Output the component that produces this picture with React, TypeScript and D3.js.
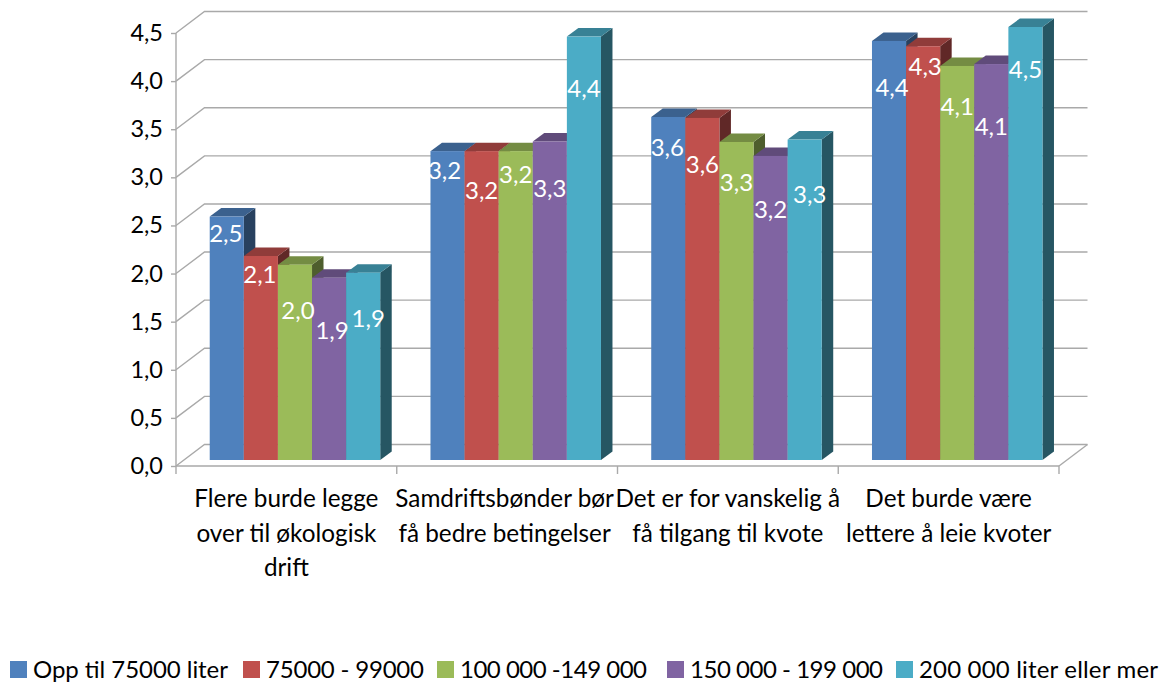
import React, { useEffect, useRef } from 'react'
import * as d3 from 'd3'

const categories = [
  ['Flere burde legge', 'over til økologisk', 'drift'],
  ['Samdriftsbønder bør', 'få bedre betingelser'],
  ['Det er for vanskelig å', 'få tilgang til kvote'],
  ['Det burde være', 'lettere å leie kvoter'],
]
const seriesNames = ['Opp til 75000 liter', '75000 - 99000', '100 000 -149 000', '150 000 - 199 000', '200 000 liter eller mer']
const seriesColors = ['#4f81bd', '#c0504d', '#9bbb59', '#8064a2', '#4bacc6']

const opp75 = [2.53, 3.21, 3.565, 4.355]
const s75to99 = [2.12, 3.21, 3.555, 4.3]
const s100to149 = [2.03, 3.21, 3.305, 4.095]
const s150to199 = [1.895, 3.31, 3.16, 4.115]
const s200plus = [1.947, 4.4, 3.33, 4.5]
const seriesValues = [opp75, s75to99, s100to149, s150to199, s200plus]

const yTicks = [0, 0.5, 1, 1.5, 2, 2.5, 3, 3.5, 4, 4.5]

// the labels were dragged around by hand in the original, px below the bar top
const labelDrop = [
  [17, 19, 46, 53, 46],
  [19, 39, 23, 47, 52],
  [31, 47, 41, 54, 55],
  [47, 20, 41, 63, 43],
]
// and px sideways from the bar centre
const labelNudge = [
  [-1, -1, 3, 3, 5],
  [-3, 0, 0, 0, 0],
  [-1, 0, 0, 0, 5],
  [3, 2, 0, 0, 0],
]

const W = 1165
const H = 682
const FONT = 'Lato, "Noto Sans", sans-serif'
const GRID = '#a9a9a9'
const wallX = 28.5
const wallY = 21.5
const barLift = 6
const barShift = 8.6
const sideX = 11.5
const sideY = 8.5

const legendX = [10, 243, 437, 667, 896]
// Lato digits run wider than the original font, so legend texts are fitted
const legendTextW = [195, 158, 187, 193, 239]
const categoryNudge = [0, -2.5, 0, 0]

const fmt = (v: number) => d3.format('.1f')(v).replace('.', ',')
const shade = (c: string, k: number) => {
  const r = d3.rgb(c)
  return d3.rgb(r.r * k, r.g * k, r.b * k).formatHex()
}

export default function App() {
  const ref = useRef<SVGSVGElement>(null)

  useEffect(() => {
    const svg = d3.select(ref.current)
    svg.selectAll('*').remove()

    const y = d3.scaleLinear().domain([0, 4.5]).range([466, 33])
    const x0 = d3.scaleBand().domain(categories.map((_, i) => String(i))).range([176, 1059])
    const step = x0.bandwidth()
    const groupW = 170.5
    const x1 = d3.scaleBand()
      .domain(seriesNames)
      .range([(step - groupW) / 2, (step + groupW) / 2])

    // back wall, left wall, floor edge
    const grid = svg.append('g')
    yTicks.forEach((t) => {
      grid.append('path')
        .attr('d', `M176,${y(t)}L${176 + wallX},${y(t) - wallY}H${1059 + wallX}`)
        .attr('fill', 'none')
        .attr('stroke', GRID)
        .attr('stroke-width', 1.4)
    })
    grid.append('line')
      .attr('x1', 1059).attr('y1', y(0))
      .attr('x2', 1059 + wallX).attr('y2', y(0) - wallY)
      .attr('stroke', GRID).attr('stroke-width', 1.4)

    const yAxis = d3.axisLeft(y).tickValues(yTicks).tickFormat((d) => fmt(+d)).tickSize(5).tickPadding(8)
    const gy = svg.append('g').attr('transform', 'translate(176,0)').call(yAxis as any)
    gy.select('.domain').attr('d', `M0,${y(4.5)}V${y(0) + 8}`).attr('stroke', GRID).attr('stroke-width', 1.4)
    gy.selectAll('.tick line').attr('stroke', GRID).attr('stroke-width', 1.4)
    gy.selectAll('text').attr('font-family', FONT).attr('font-size', 23.5).attr('fill', '#000')

    const xBase = svg.append('g').attr('transform', `translate(0,${y(0)})`)
    xBase.append('line').attr('x1', 176).attr('x2', 1059).attr('stroke', GRID).attr('stroke-width', 1.4)
    categories.forEach((_, i) => {
      const xt = x0(String(i))! + step
      xBase.append('line').attr('x1', xt).attr('x2', xt).attr('y2', 8).attr('stroke', GRID).attr('stroke-width', 1.4)
    })

    // bars, left to right so that each one covers the side of the previous
    const bars = svg.append('g')
    const labels: { x: number; y: number; t: string }[] = []
    categories.forEach((_, c) => {
      seriesNames.forEach((name, s) => {
        const v = seriesValues[s][c]
        const left = x0(String(c))! + x1(name)! + barShift
        const w = x1.bandwidth()
        const right = left + w
        const top = y(v) - barLift
        const bottom = y(0) - barLift
        const color = seriesColors[s]

        bars.append('path')
          .attr('d', `M${right},${top}l${sideX},${-sideY}V${bottom - sideY}l${-sideX},${sideY}Z`)
          .attr('fill', shade(color, 0.5))
        bars.append('path')
          .attr('d', `M${left},${top}l${sideX},${-sideY}H${right + sideX}l${-sideX},${sideY}Z`)
          .attr('fill', shade(color, 0.75))
        bars.append('rect')
          .attr('x', left).attr('y', top)
          .attr('width', w).attr('height', bottom - top)
          .attr('fill', color)

        labels.push({ x: left + w / 2 + labelNudge[c][s], y: top + labelDrop[c][s], t: fmt(v) })
      })
    })

    svg.append('g').selectAll('text').data(labels).join('text')
      .attr('x', (d) => d.x)
      .attr('y', (d) => d.y)
      .attr('dy', '0.35em')
      .attr('text-anchor', 'middle')
      .attr('font-family', FONT)
      .attr('font-size', 24)
      .attr('fill', '#fff')
      .text((d) => d.t)

    // category labels
    categories.forEach((lines, i) => {
      const t = svg.append('text')
        .attr('text-anchor', 'middle')
        .attr('font-family', FONT)
        .attr('font-size', 24.3)
        .attr('fill', '#000')
      lines.forEach((line, j) => {
        t.append('tspan')
          .attr('x', x0(String(i))! + step / 2 + categoryNudge[i])
          .attr('y', 507 + j * 34.7)
          .text(line)
      })
    })

    // legend
    seriesNames.forEach((name, s) => {
      const g = svg.append('g').attr('transform', `translate(${legendX[s]},0)`)
      g.append('rect').attr('y', 661).attr('width', 17).attr('height', 17).attr('fill', seriesColors[s])
      g.append('text')
        .attr('x', 23).attr('y', 678)
        .attr('font-family', FONT)
        .attr('font-size', 24)
        .attr('fill', '#000')
        .attr('textLength', legendTextW[s])
        .text(name)
    })
  }, [])

  return <svg ref={ref} width={W} height={H} style={{ position: 'absolute', left: 0, top: 0, background: '#fff' }} />
}
